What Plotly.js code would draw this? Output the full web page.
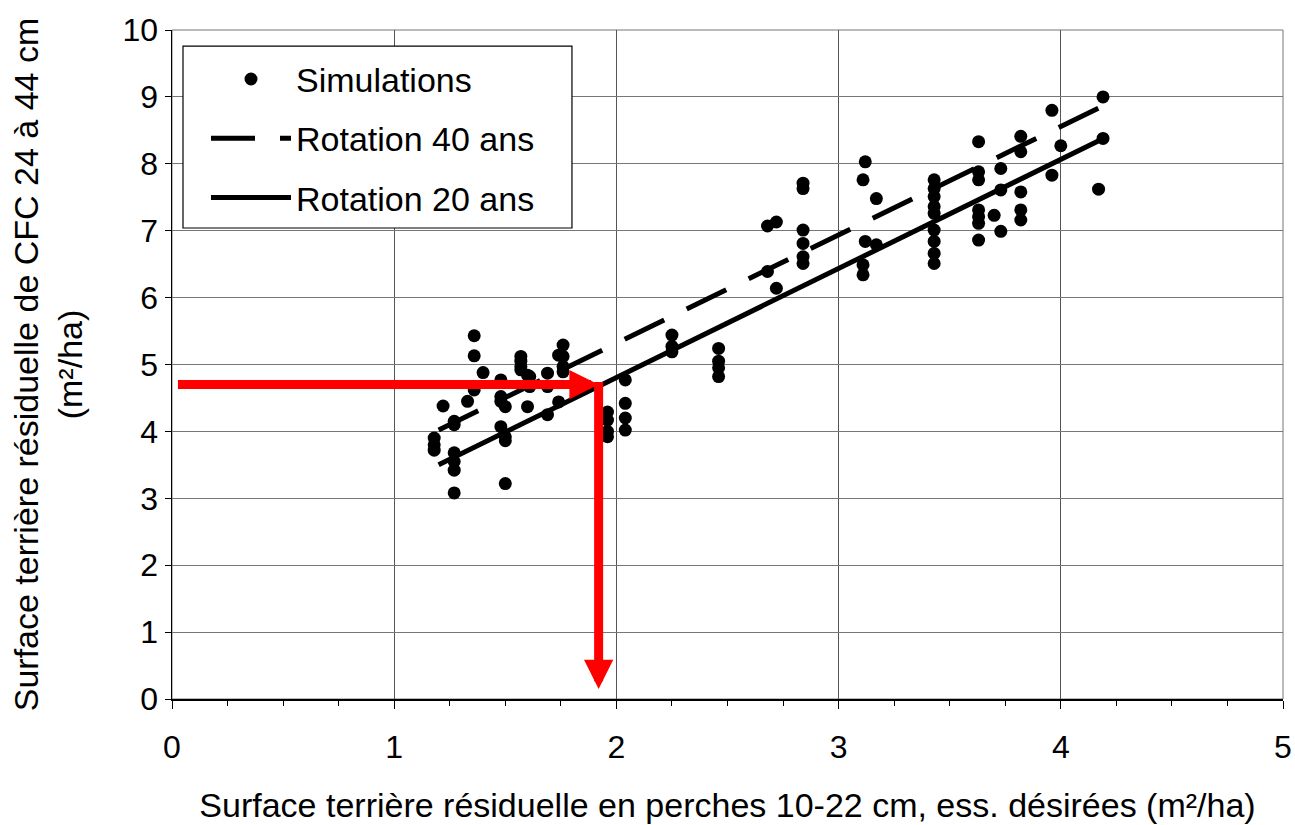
<!DOCTYPE html>
<html>
<head>
<meta charset="utf-8">
<script src="https://cdn.plot.ly/plotly-3.0.1.min.js"></script>
<style>
  html, body { margin: 0; padding: 0; background: #ffffff; }
  #chart { width: 1295px; height: 825px; }
</style>
</head>
<body>
<div id="chart"></div>
<script>
// Simulated stands: residual basal area of saplings (x) vs. residual basal area of 24-44 cm stems (y)
const simX = [
  1.18, 1.18, 1.18,
  1.22,
  1.27, 1.27, 1.27, 1.27, 1.27, 1.27,
  1.33,
  1.36, 1.36, 1.36,
  1.40,
  1.48, 1.48, 1.48, 1.48,
  1.50, 1.50, 1.50, 1.50,
  1.57, 1.57, 1.57, 1.57,
  1.60, 1.60,
  1.61, 1.61,
  1.69, 1.69, 1.69,
  1.74, 1.74,
  1.76, 1.76, 1.76, 1.76,
  1.96, 1.96, 1.96, 1.96,
  2.04, 2.04, 2.04, 2.04,
  2.25, 2.25, 2.25,
  2.46, 2.46, 2.46, 2.46,
  2.68, 2.68,
  2.72, 2.72,
  2.84, 2.84, 2.84, 2.84, 2.84, 2.84,
  3.11, 3.11, 3.11,
  3.12, 3.12,
  3.17, 3.17,
  3.43, 3.43, 3.43, 3.43, 3.43, 3.43, 3.43, 3.43, 3.43,
  3.63, 3.63, 3.63, 3.63, 3.63, 3.63, 3.63,
  3.70,
  3.73, 3.73, 3.73,
  3.82, 3.82, 3.82, 3.82, 3.82,
  3.96, 3.96,
  4.00,
  4.17,
  4.19, 4.19
];
const simY = [
  3.90, 3.80, 3.72,
  4.38,
  4.15, 4.10, 3.68, 3.55, 3.42, 3.08,
  4.45,
  5.43, 5.13, 4.62,
  4.88,
  4.77, 4.52, 4.45, 4.07,
  4.37, 3.92, 3.86, 3.22,
  5.12, 5.05, 4.97, 4.92,
  4.84, 4.37,
  4.82, 4.67,
  4.87, 4.67, 4.25,
  5.14, 4.44,
  5.29, 5.12, 4.97, 4.89,
  4.29, 4.17, 4.00, 3.92,
  4.77, 4.42, 4.20, 4.02,
  5.44, 5.27, 5.19,
  5.24, 5.05, 4.95, 4.82,
  7.07, 6.39,
  7.13, 6.14,
  7.71, 7.63, 7.01, 6.81, 6.61, 6.51,
  7.76, 6.49, 6.34,
  8.03, 6.84,
  7.48, 6.79,
  7.76, 7.63, 7.51, 7.36, 7.26, 7.01, 6.84, 6.66, 6.51,
  8.33, 7.88, 7.76, 7.31, 7.21, 7.11, 6.86,
  7.23,
  7.93, 7.61, 6.99,
  8.41, 8.18, 7.58, 7.31, 7.16,
  8.80, 7.83,
  8.27,
  7.62,
  9.00, 8.38
];

// Fitted relations for the two rotations
const fitX = [1.20, 4.18];
const rotation40Y = [4.02, 8.85];
const rotation20Y = [3.50, 8.36];

// Reading example: target value on y, corresponding value on x
const readY = 4.70;
const readX = 1.92;
const readStartX = 0.02;
const readEndY = 0.15;

const seriesNames = ['Simulations', 'Rotation 40 ans', 'Rotation 20 ans'];
const xTitle = 'Surface terrière résiduelle en perches 10-22 cm, ess. désirées (m²/ha)';
const yTitle = 'Surface terrière résiduelle de CFC 24 à 44 cm<br>(m²/ha)';

const FONT = 'Liberation Sans, Arial, sans-serif';

const traces = [
  {
    type: 'scatter', mode: 'markers', name: seriesNames[0], legendgroup: 'a',
    x: simX, y: simY,
    marker: { color: '#000000', size: 13 }
  },
  {
    type: 'scatter', mode: 'lines', name: seriesNames[1], legendgroup: 'b',
    x: fitX, y: rotation40Y,
    line: { color: '#000000', width: 5, dash: '44px,25px' }
  },
  {
    type: 'scatter', mode: 'lines', name: seriesNames[2], legendgroup: 'c',
    x: fitX, y: rotation20Y,
    line: { color: '#000000', width: 5 }
  }
];

const layout = {
  width: 1295, height: 825,
  margin: { l: 172, r: 12, t: 30, b: 126 },
  paper_bgcolor: '#ffffff', plot_bgcolor: '#ffffff',
  font: { family: FONT, color: '#000000', size: 32 },
  showlegend: true,
  legend: {
    x: 0.0306, y: 0.9695, xanchor: 'left', yanchor: 'top',
    bgcolor: 'rgba(0,0,0,0)', borderwidth: 0,
    font: { family: FONT, size: 34, color: '#000000' },
    itemwidth: 80, tracegroupgap: 12, traceorder: 'grouped'
  },
  xaxis: {
    range: [0, 5], dtick: 1, tick0: 0,
    showgrid: true, gridcolor: '#555555', gridwidth: 1,
    zeroline: false,
    showline: true, linecolor: '#000000', linewidth: 1.5,
    ticks: 'outside', ticklen: 8, tickcolor: '#000000',
    minor: { dtick: 0.25, ticks: 'outside', ticklen: 5, tickcolor: '#000000', showgrid: false },
    tickfont: { family: FONT, size: 32 },
    ticklabelstandoff: 11,
    title: { text: xTitle, font: { family: FONT, size: 34 }, standoff: 29 },
    fixedrange: true
  },
  yaxis: {
    range: [0, 10], dtick: 1, tick0: 0,
    showgrid: true, gridcolor: '#777777', gridwidth: 1,
    zeroline: false,
    showline: true, linecolor: '#000000', linewidth: 1.5,
    ticks: 'outside', ticklen: 6, tickcolor: '#000000',
    tickfont: { family: FONT, size: 32 },
    title: { text: yTitle, font: { family: FONT, size: 34 }, standoff: 29 },
    fixedrange: true
  },
  shapes: [
    {
      type: 'rect', xref: 'paper', yref: 'paper', x0: 0, x1: 1, y0: 0, y1: 1,
      line: { color: '#777777', width: 1 }, layer: 'below'
    },
    {
      // legend frame
      type: 'rect', xref: 'paper', yref: 'paper', x0: 0.0099, x1: 0.36, y0: 0.704, y1: 0.976,
      line: { color: '#000000', width: 1.2 }, fillcolor: '#ffffff', layer: 'above'
    }
  ],
  annotations: [
    {
      x: readX, y: readY, ax: readStartX, ay: readY,
      xref: 'x', yref: 'y', axref: 'x', ayref: 'y',
      text: '', showarrow: true,
      arrowcolor: '#ff0000', arrowwidth: 9, arrowhead: 2, arrowsize: 0.65, standoff: 0
    },
    {
      x: readX, y: readEndY, ax: readX, ay: readY + 0.06,
      xref: 'x', yref: 'y', axref: 'x', ayref: 'y',
      text: '', showarrow: true,
      arrowcolor: '#ff0000', arrowwidth: 9, arrowhead: 2, arrowsize: 0.65, standoff: 0
    }
  ]
};

Plotly.newPlot('chart', traces, layout, { displayModeBar: false, staticPlot: true });
</script>
</body>
</html>
